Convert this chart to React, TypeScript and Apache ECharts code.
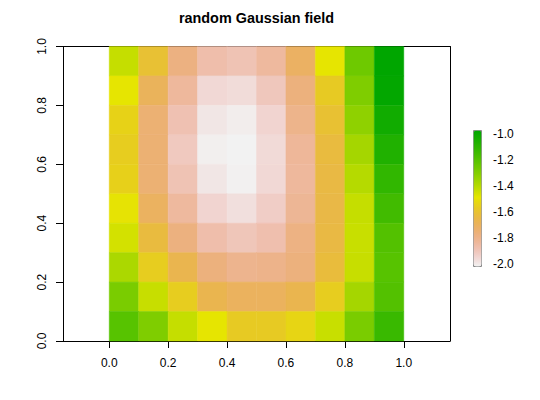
import React, { useEffect, useRef } from "react";
import * as echarts from "echarts";

// Cell centres (x from left to right, y from top row to bottom row)
const xCenters = [0.05, 0.15, 0.25, 0.35, 0.45, 0.55, 0.65, 0.75, 0.85, 0.95];
const yCenters = [0.95, 0.85, 0.75, 0.65, 0.55, 0.45, 0.35, 0.25, 0.15, 0.05];

// Field values, one array per row, top row first
const row1 = [-1.424, -1.601, -1.772, -1.863, -1.885, -1.836, -1.708, -1.486, -1.250, -0.967];
const row2 = [-1.486, -1.690, -1.833, -1.954, -1.963, -1.900, -1.763, -1.564, -1.286, -0.978];
const row3 = [-1.536, -1.743, -1.879, -1.987, -2.002, -1.942, -1.795, -1.599, -1.319, -1.016];
const row4 = [-1.554, -1.743, -1.907, -2.007, -2.015, -1.958, -1.826, -1.627, -1.362, -1.061];
const row5 = [-1.543, -1.743, -1.884, -1.987, -2.010, -1.954, -1.832, -1.636, -1.394, -1.106];
const row6 = [-1.491, -1.701, -1.837, -1.942, -1.971, -1.921, -1.818, -1.645, -1.424, -1.145];
const row7 = [-1.449, -1.627, -1.769, -1.863, -1.894, -1.871, -1.777, -1.636, -1.430, -1.187];
const row8 = [-1.375, -1.554, -1.663, -1.763, -1.800, -1.792, -1.763, -1.619, -1.428, -1.198];
const row9 = [-1.275, -1.428, -1.554, -1.663, -1.697, -1.697, -1.663, -1.554, -1.362, -1.187];
const row10 = [-1.198, -1.286, -1.424, -1.486, -1.564, -1.564, -1.528, -1.430, -1.275, -1.126];
const rows = [row1, row2, row3, row4, row5, row6, row7, row8, row9, row10];

const xTicks = [0, 0.2, 0.4, 0.6, 0.8, 1.0];
const yTicks = [0, 0.2, 0.4, 0.6, 0.8, 1.0];
const legendTicks = [-2.0, -1.8, -1.6, -1.4, -1.2, -1.0];
const titleText = "random Gaussian field";

function hsv(h: number, s: number, v: number): string {
  const i = Math.floor(h * 6);
  const f = h * 6 - i;
  const p = v * (1 - s);
  const q = v * (1 - f * s);
  const t = v * (1 - (1 - f) * s);
  let r = 0, g = 0, b = 0;
  switch (((i % 6) + 6) % 6) {
    case 0: r = v; g = t; b = p; break;
    case 1: r = q; g = v; b = p; break;
    case 2: r = p; g = v; b = t; break;
    case 3: r = p; g = q; b = v; break;
    case 4: r = t; g = p; b = v; break;
    default: r = v; g = p; b = q; break;
  }
  const hx = (c: number) => Math.round(c * 255).toString(16).padStart(2, "0");
  return "#" + hx(r) + hx(g) + hx(b);
}
function seq(a: number, b: number, len: number): number[] {
  if (len === 1) return [a];
  const out: number[] = [];
  for (let i = 0; i < len; i++) out.push(a + ((b - a) * i) / (len - 1));
  return out;
}
function terrainColors(n: number): string[] {
  const k = Math.floor(n / 2);
  const h = [4 / 12, 2 / 12, 0];
  const s = [1, 1, 0];
  const v = [0.65, 0.9, 0.95];
  const out: string[] = [];
  const h1 = seq(h[0], h[1], k), s1 = seq(s[0], s[1], k), v1 = seq(v[0], v[1], k);
  for (let i = 0; i < k; i++) out.push(hsv(h1[i], s1[i], v1[i]));
  const m = n - k + 1;
  const h2 = seq(h[1], h[2], m), s2 = seq(s[1], s[2], m), v2 = seq(v[1], v[2], m);
  for (let i = 1; i < m; i++) out.push(hsv(h2[i], s2[i], v2[i]));
  return out;
}

export default function App() {
  const ref = useRef<HTMLDivElement>(null);
  useEffect(() => {
    if (!ref.current) return;
    const chart = echarts.init(ref.current, null, { renderer: "svg" });
    const data: number[][] = [];
    rows.forEach((row, r) => row.forEach((val, c) => data.push([xCenters[c], yCenters[r], val])));
    const all = rows.flat();
    const zMin = Math.min(...all);
    const zMax = Math.max(...all);
    const halfW = (xCenters[1] - xCenters[0]) / 2;
    const halfH = Math.abs(yCenters[0] - yCenters[1]) / 2;
    const palette = terrainColors(64).reverse();
    const font = "Liberation Sans, Arial, Helvetica, sans-serif";
    const fmt = (v: number) => v.toFixed(1);

    chart.setOption({
      animation: false,
      textStyle: { fontFamily: font },
      graphic: [
        {
          type: "text",
          x: 256.5,
          y: 18,
          style: {
            text: titleText,
            textAlign: "center",
            textVerticalAlign: "middle",
            font: "bold 14.4px " + font,
            fill: "#000",
          },
        },
      ],
      grid: [
        { left: 63, top: 46.5, width: 387, height: 294.5 },
        { left: 473, top: 130, width: 8, height: 136 },
      ],
      xAxis: [
        {
          gridIndex: 0,
          type: "value",
          min: -0.157,
          max: 1.157,
          position: "bottom",
          axisLine: { show: true, onZero: false, lineStyle: { color: "#000", width: 1 } },
          axisTick: { show: true, length: 7, customValues: xTicks, lineStyle: { color: "#000" } },
          axisLabel: { customValues: xTicks, formatter: fmt, margin: 16, fontSize: 12, color: "#000", fontFamily: font },
          splitLine: { show: false },
        },
        {
          gridIndex: 0,
          type: "value",
          min: -0.157,
          max: 1.157,
          position: "top",
          axisLine: { show: true, onZero: false, lineStyle: { color: "#000", width: 1 } },
          axisTick: { show: false },
          axisLabel: { show: false },
          splitLine: { show: false },
        },
        { gridIndex: 1, type: "value", min: 0, max: 1, show: false },
      ],
      yAxis: [
        {
          gridIndex: 0,
          type: "value",
          min: 0,
          max: 1,
          position: "left",
          axisLine: { show: true, onZero: false, lineStyle: { color: "#000", width: 1 } },
          axisTick: { show: true, length: 7, customValues: yTicks, lineStyle: { color: "#000" } },
          axisLabel: { customValues: yTicks, formatter: fmt, rotate: 90, margin: 15, fontSize: 12, color: "#000", fontFamily: font },
          splitLine: { show: false },
        },
        {
          gridIndex: 0,
          type: "value",
          min: 0,
          max: 1,
          position: "right",
          axisLine: { show: true, onZero: false, lineStyle: { color: "#000", width: 1 } },
          axisTick: { show: false },
          axisLabel: { show: false },
          splitLine: { show: false },
        },
        {
          gridIndex: 1,
          type: "value",
          min: zMin,
          max: zMax,
          position: "right",
          axisLine: { show: false },
          axisTick: { show: true, length: 4, customValues: legendTicks, lineStyle: { color: "#000" } },
          axisLabel: { customValues: legendTicks, formatter: fmt, margin: 12, fontSize: 12, color: "#000", fontFamily: font },
          splitLine: { show: false },
        },
      ],
      visualMap: {
        type: "continuous",
        min: zMin,
        max: zMax,
        seriesIndex: 0,
        dimension: 2,
        calculable: false,
        orient: "vertical",
        left: 473,
        top: 130,
        itemWidth: 8,
        itemHeight: 136,
        padding: 0,
        borderColor: "#888",
        borderWidth: 1,
        inRange: { color: palette },
      },
      series: [
        {
          type: "custom",
          xAxisIndex: 0,
          yAxisIndex: 0,
          encode: { x: 0, y: 1 },
          data,
          renderItem: (params: any, api: any) => {
            const x = api.value(0);
            const y = api.value(1);
            const p0 = api.coord([x - halfW, y + halfH]);
            const p1 = api.coord([x + halfW, y - halfH]);
            const color = api.visual("color");
            return {
              type: "rect",
              shape: { x: p0[0], y: p0[1], width: p1[0] - p0[0], height: p1[1] - p0[1] },
              style: { fill: color, stroke: color, lineWidth: 0.5 },
            };
          },
        },
      ],
    });
    return () => chart.dispose();
  }, []);
  return (
    <div
      ref={ref}
      style={{ position: "fixed", left: 0, top: 0, width: 540, height: 400, background: "#fff" }}
    />
  );
}
